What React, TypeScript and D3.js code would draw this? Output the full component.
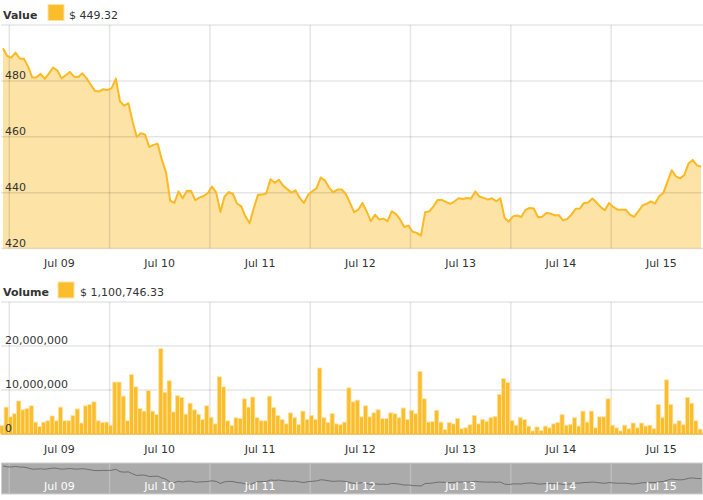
import * as d3 from "d3";
import { useEffect, useRef } from "react";

// hourly price, Jul 08 22:30 -> Jul 15 21:30
const price = [
  491.7, 488.9, 488.3, 490.1, 488, 487.9, 485.1, 481.2, 481.3, 482.5,
  480.7, 482.7, 484.8, 483.7, 480.9, 482, 483.2, 481.5, 481.4, 482.7,
  480.9, 478.6, 476.4, 476.2, 477, 476.7, 477.4, 480.8, 472.6, 471.1,
  472, 465.5, 459.9, 461.3, 460.7, 456.3, 457.1, 457.5, 451.8, 447.3,
  437.1, 436.3, 440.4, 438, 440.7, 440.6, 437.3, 438.2, 438.8, 439.8,
  442.2, 440.1, 433.1, 438.6, 440.2, 439.6, 436.1, 435.1, 431.5, 429,
  434.5, 439.2, 439.3, 439.8, 444.8, 443.5, 444.6, 442.5, 441.3, 440,
  440.8, 438.1, 436.3, 439.2, 440.5, 441.5, 445.4, 444.4, 441.8, 440.1,
  441.1, 441.1, 439.6, 436.4, 433, 433.9, 436.3, 433.3, 429.8, 432.1,
  430.4, 430.7, 429.8, 433.3, 432.4, 430.4, 427.7, 428.2, 426, 425.6,
  424.6, 433, 433.3, 435.1, 437.4, 437.4, 436.7, 436, 436.8, 438,
  437.7, 438.1, 437.9, 440.4, 438.6, 438.1, 437.5, 438, 436.9, 438,
  431, 429.6, 431.5, 431.8, 431.3, 433.8, 434.5, 434.3, 431.2, 431.4,
  432.7, 432.5, 431.9, 431.9, 430.1, 430.6, 432.1, 434.2, 434.3, 436.3,
  436.5, 437.9, 436.5, 434.8, 433.7, 436.3, 434.9, 433.9, 433.9, 433.9,
  432.1, 431.3, 433.3, 435.4, 436, 436.9, 436.1, 438.7, 439.9, 444,
  448, 445.8, 445.1, 446.3, 450.4, 451.7, 449.8, 449.32,
];

// hourly volume, in millions of dollars
const volumeM = [
  1.9, 6.1, 3.9, 4.6, 7.5, 5.5, 5.8, 6.4, 2.7, 1.7,
  2.7, 3.0, 4.1, 3.0, 6.1, 3.0, 3.0, 4.2, 5.7, 2.5,
  6.4, 6.7, 7.3, 3.0, 2.6, 2.7, 2.0, 11.8, 11.8, 8.6,
  3.0, 13.5, 10.7, 5.8, 5.2, 9.9, 5.2, 4.4, 19.4, 9.5,
  12.1, 5.0, 8.7, 8.3, 4.5, 7.0, 5.5, 4.5, 3.3, 6.4,
  3.8, 2.3, 13.0, 10.7, 3.0, 1.9, 3.7, 3.5, 8.0, 6.1,
  8.4, 3.7, 3.0, 3.0, 8.6, 6.0, 4.2, 3.3, 2.3, 4.8,
  3.7, 2.2, 5.2, 3.3, 4.2, 3.3, 15.0, 3.7, 2.6, 4.6,
  2.3, 2.1, 2.7, 10.5, 7.3, 7.7, 3.9, 6.4, 3.9, 4.8,
  5.5, 3.5, 3.5, 4.8, 4.6, 3.7, 5.9, 3.3, 5.4, 4.6,
  14.2, 8.0, 2.7, 2.8, 5.4, 2.7, 1.0, 2.6, 2.3, 3.5,
  1.2, 1.4, 2.1, 4.2, 2.3, 3.3, 2.9, 3.7, 4.0, 9.0,
  12.6, 11.7, 3.1, 2.0, 3.7, 3.3, 1.8, 0.7, 1.6, 0.8,
  1.8, 1.4, 2.3, 2.6, 4.4, 2.0, 2.2, 3.7, 1.8, 5.2,
  2.7, 5.2, 1.4, 3.9, 3.9, 8.0, 2.0, 1.4, 0.7, 2.0,
  1.2, 2.5, 1.4, 2.5, 1.8, 2.0, 1.2, 6.7, 3.7, 12.3,
  6.7, 2.3, 3.0, 2.1, 8.3, 7.0, 3.0, 1.10074633,
];

const dayLabels = ["Jul 09", "Jul 10", "Jul 11", "Jul 12", "Jul 13", "Jul 14", "Jul 15"];
const valueTicks = [420, 440, 460, 480, 500];
const volumeTicks = [0, 10000000, 20000000, 30000000];
const valueLegend = "$ 449.32";
const volumeLegend = "$ 1,100,746.33";

const W = 703;
const H = 500;
const FONT = "'DejaVu Sans', Verdana, sans-serif";
const LINE = "#fbb922";
const FILL = "#fde3a6";
const BAR = "#fbbd2a";
const GRID = "rgba(0,0,0,0.1)";
const start = Date.UTC(2016, 6, 8, 22, 30);

export default function App() {
  const ref = useRef<SVGSVGElement | null>(null);

  useEffect(() => {
    const svg = d3.select(ref.current);
    svg.selectAll("*").remove();
    svg.style("font-family", FONT);

    const data = price.map((p, i) => ({
      t: d3.utcHour.offset(new Date(start), i),
      p,
      v: volumeM[i] * 1e6,
    }));
    const t0 = data[0].t;
    const t1 = data[data.length - 1].t;

    const x = d3.scaleUtc().domain([t0, t1]).range([3, 701]);
    const days = d3.utcDay.range(d3.utcDay.ceil(t0), t1);
    const hourW = x(d3.utcHour.offset(t0, 1)) - x(t0);

    // ---------- value panel ----------
    const yTop = 25;
    const yBot = 248.5;
    const y = d3.scaleLinear().domain([420, 500]).range([yBot, yTop]);

    svg.append("rect").attr("x", 48).attr("y", 4.5).attr("width", 16).attr("height", 16)
      .attr("fill", BAR).attr("stroke", FILL);
    svg.append("text").attr("x", 3).attr("y", 19).attr("font-size", 11)
      .attr("font-weight", "bold").attr("fill", "#333").text("Value");
    svg.append("text").attr("x", 69).attr("y", 19).attr("font-size", 11)
      .attr("fill", "#333").text(valueLegend);

    const area = d3.area<any>().x((d) => x(d.t)).y0(yBot).y1((d) => y(d.p));
    const line = d3.line<any>().x((d) => x(d.t)).y((d) => y(d.p));
    svg.append("path").datum(data).attr("d", area).attr("fill", FILL);

    const g1 = svg.append("g");
    g1.selectAll("line.h").data(valueTicks).enter().append("line")
      .attr("x1", 1).attr("x2", W).attr("y1", (d) => y(d)).attr("y2", (d) => y(d))
      .attr("stroke", GRID).attr("stroke-width", 1.5);
    g1.selectAll("line.v").data(days).enter().append("line")
      .attr("x1", (d) => x(d)).attr("x2", (d) => x(d)).attr("y1", yTop).attr("y2", yBot)
      .attr("stroke", GRID).attr("stroke-width", 1.5);

    svg.append("path").datum(data).attr("d", line).attr("fill", "none")
      .attr("stroke", LINE).attr("stroke-width", 2).attr("stroke-linejoin", "round");

    svg.selectAll("text.vy").data(valueTicks.slice(0, -1)).enter().append("text")
      .attr("x", 5).attr("y", (d) => y(d) - 2).attr("font-size", 11).attr("fill", "#333")
      .text((d) => d);
    svg.selectAll("text.vx").data(days).enter().append("text")
      .attr("x", (d) => x(d3.utcHour.offset(d, 12))).attr("y", 267)
      .attr("text-anchor", "middle").attr("font-size", 11).attr("fill", "#333")
      .text((d, i) => dayLabels[i]);

    // ---------- volume panel ----------
    const vTop = 302;
    const vBot = 434;
    const yv = d3.scaleLinear().domain([0, 30000000]).range([vBot, vTop]);

    svg.append("rect").attr("x", 58).attr("y", 282).attr("width", 16).attr("height", 16)
      .attr("fill", BAR).attr("stroke", FILL);
    svg.append("text").attr("x", 3).attr("y", 296).attr("font-size", 11)
      .attr("font-weight", "bold").attr("fill", "#333").text("Volume");
    svg.append("text").attr("x", 80).attr("y", 296).attr("font-size", 11)
      .attr("fill", "#333").text(volumeLegend);

    const g2 = svg.append("g");
    g2.selectAll("line.h").data(volumeTicks).enter().append("line")
      .attr("x1", 1).attr("x2", W).attr("y1", (d) => yv(d)).attr("y2", (d) => yv(d))
      .attr("stroke", GRID).attr("stroke-width", 1.5);
    g2.selectAll("line.v").data(days).enter().append("line")
      .attr("x1", (d) => x(d)).attr("x2", (d) => x(d)).attr("y1", vTop).attr("y2", vBot)
      .attr("stroke", GRID).attr("stroke-width", 1.5);

    svg.selectAll("rect.bar").data(data).enter().append("rect")
      .attr("x", (d) => x(d.t) - hourW / 2 - 1).attr("width", hourW)
      .attr("y", (d) => yv(d.v)).attr("height", (d) => vBot - yv(d.v))
      .attr("fill", BAR).attr("stroke", FILL).attr("stroke-width", 0.8);
    svg.append("line").attr("x1", 1).attr("x2", W).attr("y1", vBot).attr("y2", vBot)
      .attr("stroke", "#e8a91c").attr("stroke-width", 1);

    const fmt = d3.format(",");
    svg.selectAll("text.vvy").data(volumeTicks.slice(0, -1)).enter().append("text")
      .attr("x", 5).attr("y", (d) => yv(d) - 2).attr("font-size", 11).attr("fill", "#333")
      .text((d) => fmt(d));
    svg.selectAll("text.vvx").data(days).enter().append("text")
      .attr("x", (d) => x(d3.utcHour.offset(d, 12))).attr("y", 453)
      .attr("text-anchor", "middle").attr("font-size", 11).attr("fill", "#333")
      .text((d, i) => dayLabels[i]);

    // ---------- navigator ----------
    const nTop = 463;
    const nBot = 494;
    svg.append("rect").attr("x", 1.5).attr("y", nTop).attr("width", W - 2).attr("height", nBot - nTop)
      .attr("fill", "#ababab").attr("stroke", "#cfcfcf");
    svg.selectAll("line.nv").data(days).enter().append("line")
      .attr("x1", (d) => x(d)).attr("x2", (d) => x(d)).attr("y1", nTop).attr("y2", nBot)
      .attr("stroke", "#bdbdbd").attr("stroke-width", 1.5);
    const yn = d3.scaleLinear().domain(d3.extent(price) as [number, number]).range([486, 466]);
    svg.append("path").datum(data)
      .attr("d", d3.line<any>().x((d) => x(d.t)).y((d) => yn(d.p)))
      .attr("fill", "none").attr("stroke", "#6e6e6e").attr("stroke-width", 1);
    svg.selectAll("text.nx").data(days).enter().append("text")
      .attr("x", (d) => x(d3.utcHour.offset(d, 12))).attr("y", 490)
      .attr("text-anchor", "middle").attr("font-size", 11).attr("fill", "#fff")
      .text((d, i) => dayLabels[i]);
  }, []);

  return (
    <div style={{ position: "fixed", left: 0, top: 0, width: W, height: H, background: "#fff" }}>
      <svg ref={ref} width={W} height={H} />
    </div>
  );
}
